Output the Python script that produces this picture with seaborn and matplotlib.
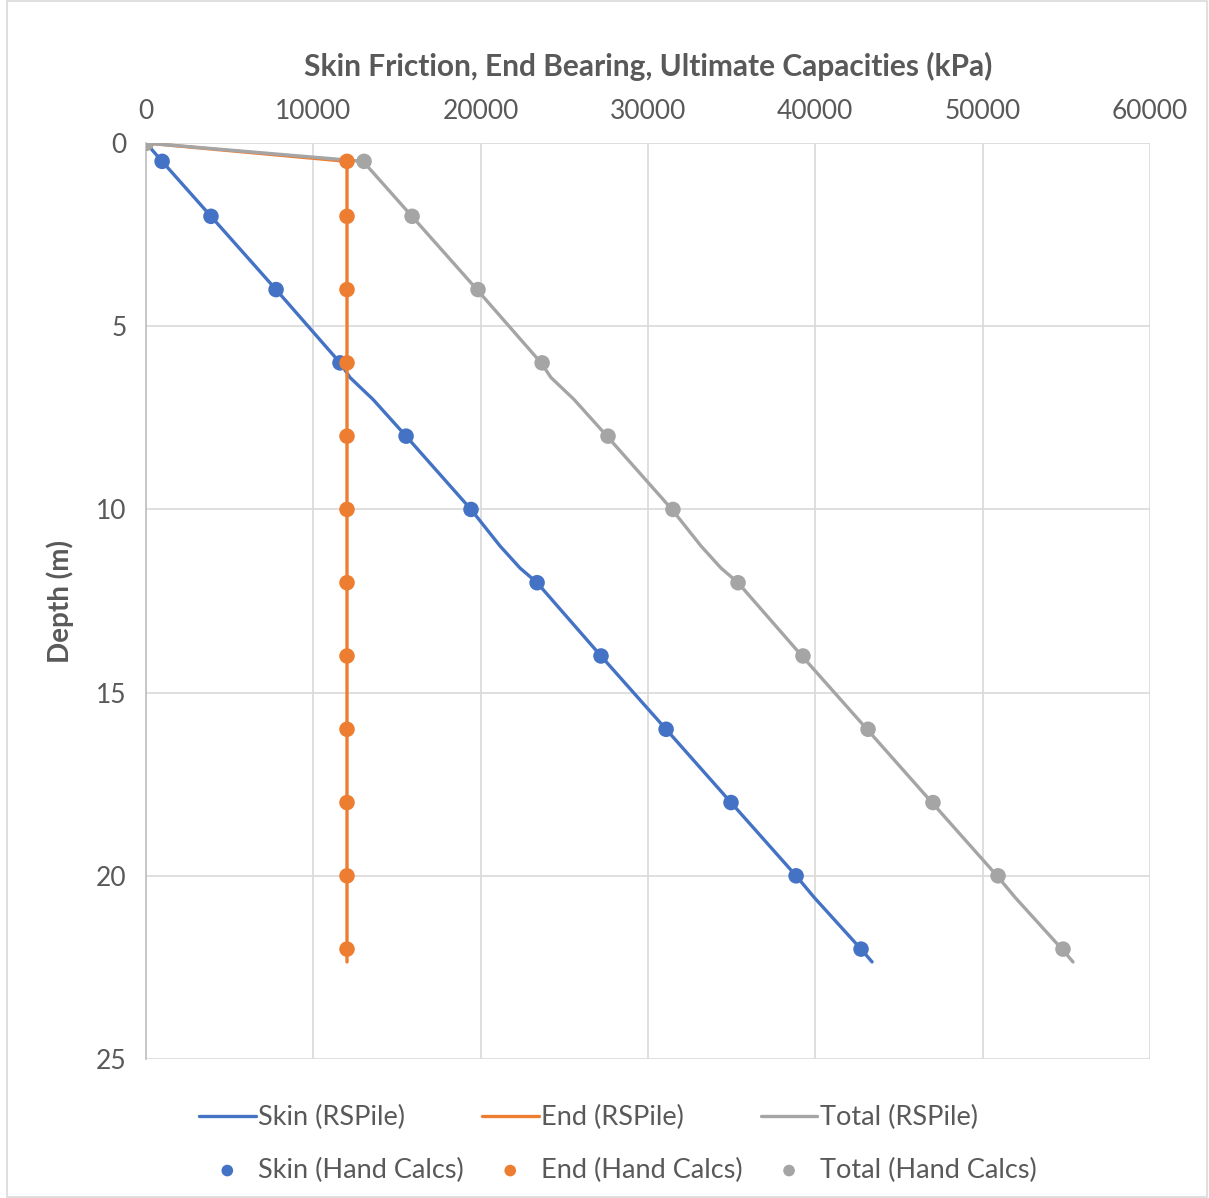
import matplotlib.pyplot as plt
import matplotlib.patches as mpatches
import pandas as pd
import seaborn as sns

sns.set_style('white')
plt.rcParams['font.family'] = ['Lato', 'DejaVu Sans']

# colours used by the original spreadsheet chart
BLUE = '#4472C4'
ORANGE = '#ED7D31'
GREY = '#A5A5A5'
TEXT = '#595959'
GRID = '#D9D9D9'

# RSPile output (depth in m, capacities in kPa)
rs_depth = [0, 0.5, 2, 4, 6, 6.4, 7, 8, 10, 11, 11.6, 12, 14, 15.6, 16, 18, 20, 20.6, 22, 22.35]
rs_skin = [0, 960, 3880, 7770, 11600, 12190, 13570, 15540, 19420, 21160, 22350, 23370,
           27190, 30300, 31080, 34960, 38850, 39950, 42730, 43390]
rs_end = [0, 12010, 12010, 12010, 12010, 12010, 12010, 12010, 12010, 12010, 12010, 12010,
          12010, 12010, 12010, 12010, 12010, 12010, 12010, 12010]
rs_total = [0, 12970, 15890, 19780, 23610, 24200, 25580, 27550, 31430, 33170, 34360, 35380,
            39200, 42310, 43090, 46970, 50860, 51960, 54740, 55400]

# hand calculations
hc_depth = [0, 0.5, 2, 4, 6, 8, 10, 12, 14, 16, 18, 20, 22]
hc_skin = [0, 960, 3880, 7770, 11590, 15540, 19420, 23370, 27190, 31080, 34960, 38850, 42730]
hc_end = [0, 12010, 12010, 12010, 12010, 12010, 12010, 12010, 12010, 12010, 12010, 12010, 12010]
hc_total = [0, 13030, 15900, 19840, 23670, 27610, 31490, 35380, 39260, 43150, 47030, 50920, 54800]

rs = pd.DataFrame({'depth': rs_depth, 'skin': rs_skin, 'end': rs_end, 'total': rs_total})
hc = pd.DataFrame({'depth': hc_depth, 'skin': hc_skin, 'end': hc_end, 'total': hc_total})

fig = plt.figure(figsize=(12.09, 11.98), dpi=100)
ax = fig.add_axes([0.1208, 0.116, 0.8304, 0.7646])

# chart area border
fig.patches.append(mpatches.Rectangle((0.006, 0.001), 0.992, 0.998, transform=fig.transFigure,
                                      fill=False, edgecolor=GRID, linewidth=1.2))

series = [('skin', 'Skin', BLUE), ('end', 'End', ORANGE), ('total', 'Total', GREY)]
for col, name, c in series:
    sns.lineplot(data=rs, x=col, y='depth', sort=False, estimator=None, color=c,
                 linewidth=2.4, label=f'{name} (RSPile)', ax=ax, zorder=3)
for col, name, c in series:
    sns.scatterplot(data=hc, x=col, y='depth', color=c, s=125, edgecolor='none',
                    label=f'{name} (Hand Calcs)', ax=ax, zorder=4)

ax.set_xlim(0, 60000)
ax.set_ylim(25, 0)
ax.set_xticks(range(0, 60001, 10000))
ax.set_yticks(range(0, 26, 5))
ax.xaxis.tick_top()
ax.xaxis.set_label_position('top')
ax.grid(True, color=GRID, linewidth=1.2, zorder=0)
ax.set_axisbelow(True)
for s in ['top', 'right', 'bottom']:
    ax.spines[s].set_visible(False)
ax.spines['left'].set_color('#BFBFBF')
ax.spines['left'].set_linewidth(1.2)
ax.tick_params(length=0, labelsize=19, labelcolor=TEXT, pad=14)

ax.set_xlabel('Skin Friction, End Bearing, Ultimate Capacities (kPa)', fontsize=21.5,
              fontweight='bold', color=TEXT, labelpad=16)
ax.set_ylabel('Depth (m)', fontsize=20, fontweight='bold', color=TEXT, labelpad=16)

# legend: lines in the first row, markers in the second
handles, labels = ax.get_legend_handles_labels()
lookup = dict(zip(labels, handles))
order = ['Skin (RSPile)', 'Skin (Hand Calcs)', 'End (RSPile)', 'End (Hand Calcs)',
         'Total (RSPile)', 'Total (Hand Calcs)']
ax.legend([lookup[k] for k in order], order, ncol=3, loc='upper center',
          bbox_to_anchor=(0.47, -0.024), frameon=False, fontsize=19.5, labelcolor=TEXT,
          handlelength=2.1, handletextpad=0.1, columnspacing=0.65, labelspacing=1.0,
          markerscale=0.75)

fig.savefig('out.png', dpi=100, facecolor='white')
